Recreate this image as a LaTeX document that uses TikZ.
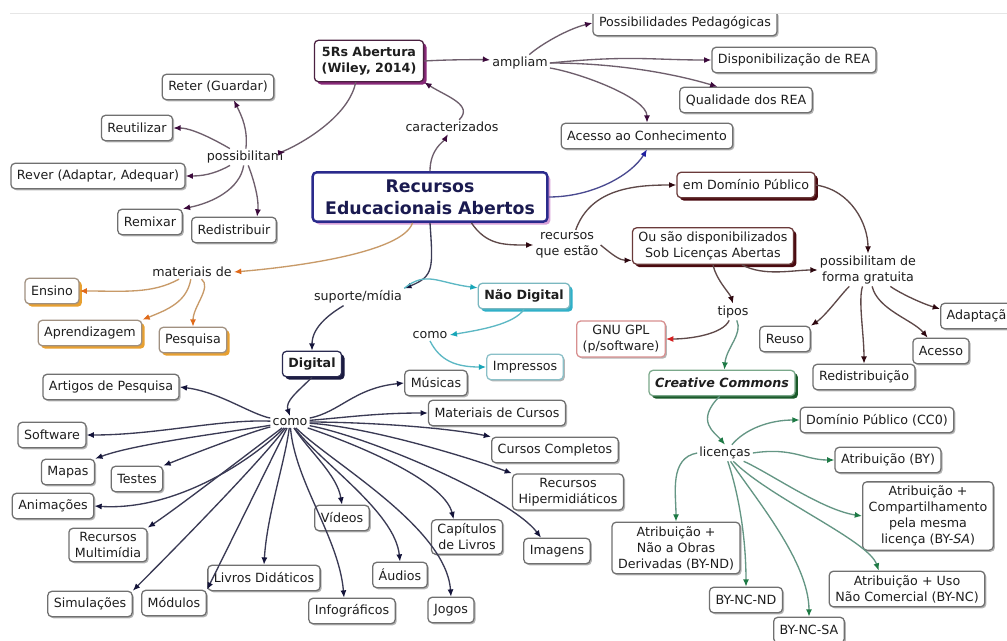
\documentclass[tikz,border=0pt]{standalone}
\usepackage{fontspec}
\setmainfont{DejaVu Sans}
\usetikzlibrary{arrows.meta,shadows}
\definecolor{txt}{HTML}{1E1E1E}
\definecolor{boxc}{HTML}{707070}
\definecolor{shc}{HTML}{B4B4B4}
\definecolor{lineP}{HTML}{6E5E6C}
\definecolor{tipP}{HTML}{3C0A3C}
\definecolor{lineM}{HTML}{5E4848}
\definecolor{tipM}{HTML}{2E0810}
\definecolor{lineG}{HTML}{649684}
\definecolor{tipG}{HTML}{1E7A45}
\definecolor{lineO}{HTML}{C89A68}
\definecolor{tipO}{HTML}{E06A1A}
\definecolor{lineT}{HTML}{5CB8C4}
\definecolor{tipT}{HTML}{18A6B8}
\definecolor{lineN}{HTML}{3A3A54}
\definecolor{tipN}{HTML}{14143A}
\definecolor{lineB}{HTML}{4A4A90}
\definecolor{tipB}{HTML}{2020A0}
\definecolor{tipR}{HTML}{D42020}
\definecolor{reaB}{HTML}{2A2A8C}
\definecolor{reaT}{HTML}{1A1A50}
\definecolor{reaS}{HTML}{D8A0D8}
\definecolor{fiveB}{HTML}{4A2040}
\definecolor{fiveS}{HTML}{8A2A7A}
\definecolor{marB}{HTML}{6A3A3A}
\definecolor{marS}{HTML}{4A0A10}
\definecolor{gnuB}{HTML}{D89090}
\definecolor{ccB}{HTML}{7AA88A}
\definecolor{ccS}{HTML}{1A5A2A}
\definecolor{orB}{HTML}{A09080}
\definecolor{orS}{HTML}{E8A030}
\definecolor{ndB}{HTML}{7AB8C0}
\definecolor{ndS}{HTML}{30B0C8}
\definecolor{impB}{HTML}{8AC0C8}
\definecolor{digB}{HTML}{2A2A50}
\definecolor{digS}{HTML}{1A1A40}
\definecolor{edge}{HTML}{E6E6E6}
\newcommand\nf{\fontsize{9.5}{12}\selectfont}
\tikzset{
  box/.style={draw=boxc, rounded corners=3pt, fill=white, line width=0.95pt,
    inner xsep=4.5pt, inner ysep=3pt, minimum height=19pt, align=center,
    font=\nf, text=txt,
    drop shadow={shadow xshift=1.2pt, shadow yshift=-1.2pt, fill=shc, opacity=1}},
  shadowc/.style={drop shadow={shadow xshift=2.2pt, shadow yshift=-2.2pt, fill=#1, opacity=1}},
  noshadow/.style={drop shadow={fill=white, opacity=0}},
  lnk/.style={font=\nf, text=txt, inner sep=1.5pt, align=center},
  arr/.style 2 args={draw=#1, line width=1pt, -{Latex[length=5.5pt,width=4.5pt,color=#2]}},
  pa/.style={arr={lineP}{tipP}},
  ma/.style={arr={lineM}{tipM}},
  ga/.style={arr={lineG}{tipG}},
  oa/.style={arr={lineO}{tipO}},
  ta/.style={arr={lineT}{tipT}},
  na/.style={arr={lineN}{tipN}},
}
\begin{document}
\begin{tikzpicture}[x=0.75pt,y=-0.75pt]
\useasboundingbox (0,0) rectangle (1007,640);
\clip (0,0) rectangle (1007,640);
\fill[white] (0,0) rectangle (1007,640);

% ---------------- nodes ----------------
\node[box] (pp) at (685,23) {Possibilidades Pedagógicas};
\node[box, draw=reaB, line width=1.8pt, text=reaT, font=\fontsize{13}{16.5}\selectfont\bfseries,
  minimum width=176pt, minimum height=37pt, inner xsep=8pt, shadowc=reaS] (rea) at (430,197) {Recursos\\Educacionais Abertos};
\node[box, draw=fiveB, font=\nf\bfseries, minimum height=31pt, inner xsep=5.5pt, shadowc=fiveS] (fiveR) at (369,61) {5Rs Abertura\\(Wiley, 2014)};
\node[lnk] (car) at (452,127) {caracterizados};
\node[lnk] (amp) at (520,63) {ampliam};
\node[box] (disp) at (794,60) {Disponibilização de REA};
\node[box] (qual) at (746,100) {Qualidade dos REA};
\node[box] (acc) at (647,136) {Acesso ao Conhecimento};
\node[lnk] (poss) at (245,157) {possibilitam};
\node[box] (ret) at (218,87) {Reter (Guardar)};
\node[box] (reu) at (137,128) {Reutilizar};
\node[box] (rev) at (98,176) {Rever (Adaptar, Adequar)};
\node[box] (rem) at (150,222) {Remixar};
\node[box] (red) at (234,230) {Redistribuir};

\node[lnk] (rqe) at (567,245) {recursos\\que estão};
\node[box, draw=marB, shadowc=marS] (edp) at (746,185) {em Domínio Público};
\node[box, draw=marB, shadowc=marS] (ous) at (713,246) {Ou são disponibilizados\\Sob Licenças Abertas};
\node[lnk] (pfg) at (868,270) {possibilitam de\\forma gratuita};
\node[box, anchor=west] (ada) at (940,316) {Adaptação};
\node[box] (reuso) at (785,339) {Reuso};
\node[box] (acesso) at (941,351) {Acesso};
\node[box] (redist) at (864,377) {Redistribuição};
\node[lnk] (tipos) at (733,312) {tipos};
\node[box, draw=gnuB, noshadow] (gnu) at (621,339) {GNU GPL\\(p/software)};
\node[box, draw=ccB, font=\nf\bfseries\itshape, shadowc=ccS] (cc) at (722,383) {Creative Commons};
\node[box] (cc0) at (877,420) {Domínio Público (CC0)};
\node[lnk] (lic) at (725,453) {licenças};
\node[box] (by) at (888,460) {Atribuição (BY)};
\node[box] (bysa) at (928,516) {Atribuição +\\Compartilhamento\\pela mesma\\licença (BY-\textit{SA})};
\node[box] (bync) at (907,589) {Atribuição + Uso\\Não Comercial (BY-NC)};
\node[box] (bynd) at (676,548) {Atribuição +\\Não a Obras\\Derivadas (BY-ND)};
\node[box] (byncnd) at (746,600) {BY-NC-ND};
\node[box] (byncsa) at (809,630) {BY-NC-SA};

\node[lnk] (mat) at (192,272) {materiais de};
\node[box, draw=orB, shadowc=orS] (ens) at (52,291) {Ensino};
\node[box, draw=orB, shadowc=orS] (apr) at (90,333) {Aprendizagem};
\node[box, draw=orB, shadowc=orS] (pes) at (193,340) {Pesquisa};

\node[lnk] (sup) at (358,297) {suporte/mídia};
\node[box, draw=ndB, font=\nf\bfseries, shadowc=ndS] (nd) at (524,296) {Não Digital};
\node[lnk] (como2) at (430,335) {como};
\node[box, draw=impB, noshadow] (imp) at (525,367) {Impressos};
\node[box, draw=digB, font=\nf\bfseries, shadowc=digS] (dig) at (312,364) {Digital};
\node[lnk] (como) at (290,422) {como};

\node[box] (art) at (111,387) {Artigos de Pesquisa};
\node[box] (soft) at (52,435) {Software};
\node[box] (mapas) at (68,472) {Mapas};
\node[box] (testes) at (137,479) {Testes};
\node[box] (anim) at (53,506) {Animações};
\node[box] (rmm) at (108,545) {Recursos\\Multimídia};
\node[box] (sim) at (90,604) {Simulações};
\node[box] (mod) at (174,603) {Módulos};
\node[box] (livd) at (264,578) {Livros Didáticos};
\node[box] (info) at (352,611) {Infográficos};
\node[box] (vid) at (342,518) {Vídeos};
\node[box] (aud) at (400,575) {Áudios};
\node[box] (jog) at (451,610) {Jogos};
\node[box] (cap) at (467,537) {Capítulos\\de Livros};
\node[box] (img) at (557,551) {Imagens};
\node[box] (rhip) at (568,492) {Recursos\\Hipermidiáticos};
\node[box] (ccomp) at (555,450) {Cursos Completos};
\node[box] (matc) at (497,413) {Materiais de Cursos};
\node[box] (mus) at (436,383) {Músicas};

% ---------------- connectors: top ----------------
\draw[pa] (rea.north) .. controls +(0,-22) and +(-8,14) .. (car);
\draw[pa] (car) .. controls +(22,-22) and +(22,14) .. (fiveR.south east);
\draw[pa] (fiveR.east) .. controls +(35,-2) and +(-30,-3) .. (amp);
\draw[pa] (fiveR.238) .. controls +(-8,40) and +(40,-5) .. (poss);
\draw[pa] (amp) .. controls +(20,-18) and +(-25,6) .. (pp.west);
\draw[pa] (amp.east) .. controls +(80,-8) and +(-60,0) .. (disp.west);
\draw[pa] (amp.east) .. controls +(70,0) and +(-40,-12) .. (qual.155);
\draw[pa] (amp) .. controls +(60,10) and +(0,-25) .. (acc.north);
\draw[draw=lineB, line width=1pt, -{Latex[length=5.5pt,width=4.5pt,color=tipB]}] (rea.east) .. controls +(45,0) and +(-15,25) .. (acc.south);
\draw[pa] (poss) .. controls +(3,-28) and +(8,16) .. (ret.-40);
\draw[pa] (poss) .. controls +(-18,-10) and +(22,0) .. (reu.east);
\draw[pa] (poss) .. controls +(-25,14) and +(22,0) .. (rev.east);
\draw[pa] (poss) .. controls +(-5,32) and +(30,-6) .. (rem.north east);
\draw[pa] (poss) .. controls +(10,26) and +(2,-16) .. (red.30);

% ---------------- connectors: right ----------------
\draw[ma] (rea.-32) .. controls +(15,22) and +(-30,0) .. (rqe.west);
\draw[ma] (rqe.60) .. controls +(15,-42) and +(-40,0) .. (edp.west);
\draw[ma] (rqe.east) .. controls +(12,10) and +(-12,0) .. (ous.190);
\draw[ma] (edp.east) .. controls +(35,5) and +(0,-30) .. (pfg.north);
\draw[ma] (ous.-33) .. controls +(22,12) and +(-25,0) .. (pfg.west);
\draw[ma] (pfg) .. controls +(-25,22) and +(15,-10) .. (reuso.north east);
\draw[ma] (pfg) .. controls +(-10,30) and +(0,-30) .. (redist.north);
\draw[ma] (pfg) .. controls +(10,40) and +(-15,-18) .. (acesso.135);
\draw[ma] (pfg) .. controls +(30,22) and +(-20,-6) .. (ada.170);
\draw[ma] (ous.south) .. controls +(3,15) and +(-3,-10) .. (tipos.north);
\draw[draw=lineM, line width=1pt, -{Latex[length=5.5pt,width=4.5pt,color=tipR]}] (tipos) .. controls +(-10,22) and +(25,0) .. (gnu.east);
\draw[ga] (tipos) .. controls +(10,22) and +(2,-22) .. (cc.80);
\draw[ga] (cc.-100) .. controls +(-25,25) and +(-10,-12) .. (lic.north);
\draw[ga] (lic) .. controls +(20,-24) and +(-30,0) .. (cc0.west);
\draw[ga] (lic.east) .. controls +(40,-6) and +(-30,0) .. (by.west);
\draw[ga] (lic) .. controls +(45,20) and +(-40,-6) .. (bysa.west);
\draw[ga] (lic) .. controls +(45,45) and +(-10,-30) .. (bync.147);
\draw[ga] (lic.west) .. controls +(-28,5) and +(0,-28) .. (bynd.north);
\draw[ga] (lic) .. controls +(15,45) and +(0,-45) .. (byncnd.north);
\draw[ga] (lic) .. controls +(30,45) and +(0,-55) .. (byncsa.north);

% ---------------- connectors: left ----------------
\draw[oa] (rea.236) .. controls +(-10,30) and +(60,-5) .. (mat.east);
\draw[oa] (mat) .. controls +(-40,22) and +(45,0) .. (ens.east);
\draw[oa] (mat) .. controls +(-5,30) and +(25,-10) .. (apr.north east);
\draw[oa] (mat) .. controls +(20,15) and +(0,-20) .. (pes.north);
\draw[na] (rea.south) .. controls +(3,45) and +(30,-12) .. (sup.north east);
\draw[na] (sup) .. controls +(-25,15) and +(0,-25) .. (dig.north);
\draw[ta] (sup.north east) .. controls +(22,-18) and +(-40,-5) .. (nd.170);
\draw[ta] (nd.south) .. controls +(-10,15) and +(30,-5) .. (como2.east);
\draw[ta] (como2.south) .. controls +(10,20) and +(-30,0) .. (imp.west);
\draw[na] (dig.south) .. controls +(-15,15) and +(-5,-15) .. (como.north);

% ---------------- connectors: digital ----------------
\draw[na] (como) .. controls +(-40,-8) and +(40,5) .. (art.east);
\draw[na] (como) .. controls +(-70,-3) and +(70,0) .. (soft.east);
\draw[na] (como) .. controls +(-60,10) and +(40,-15) .. (mapas.north east);
\draw[na] (como) .. controls +(-40,10) and +(30,-12) .. (testes.north east);
\draw[na] (como) .. controls +(-40,40) and +(80,5) .. (anim.east);
\draw[na] (como) .. controls +(-40,30) and +(30,-20) .. (rmm.north east);
\draw[na] (como) .. controls +(-30,40) and +(40,-40) .. (sim.north east);
\draw[na] (como) .. controls +(-20,40) and +(20,-40) .. (mod.north east);
\draw[na] (como) .. controls +(-5,40) and +(3,-50) .. (livd.north);
\draw[na] (como) .. controls +(5,60) and +(-5,-60) .. ([xshift=-6pt]info.north);
\draw[na] (como) .. controls +(20,30) and +(-5,-30) .. (vid.north);
\draw[na] (como) .. controls +(30,40) and +(-5,-50) .. (aud.north);
\draw[na] (como) .. controls +(40,40) and +(-5,-70) .. (jog.north);
\draw[na] (como) .. controls +(60,20) and +(-10,-40) .. ([xshift=-10pt]cap.north);
\draw[na] (como) .. controls +(80,15) and +(-30,-40) .. ([xshift=-12pt]img.north);
\draw[na] (como) .. controls +(80,5) and +(-40,-15) .. (rhip.north west);
\draw[na] (como) .. controls +(70,0) and +(-50,-10) .. (ccomp.north west);
\draw[na] (como) .. controls +(60,-5) and +(-50,0) .. (matc.west);
\draw[na] (como) .. controls +(50,-10) and +(-50,5) .. (mus.west);

% top crop edge
\fill[white] (0,0) rectangle (1007,12.5);
\draw[edge, line width=0.6pt] (10,13) -- (1007,13);
\end{tikzpicture}
\end{document}
